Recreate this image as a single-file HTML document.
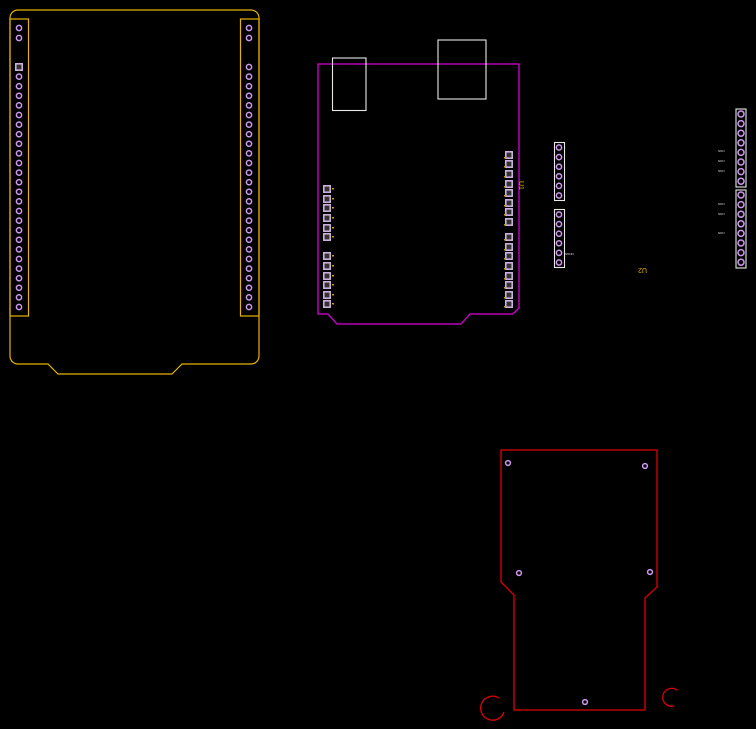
<!DOCTYPE html>
<html><head><meta charset="utf-8"><style>
html,body{margin:0;padding:0;background:#000;width:756px;height:729px;overflow:hidden}
svg{display:block}
</style></head><body>
<svg id="s" width="756" height="729" viewBox="0 0 756 729" xmlns="http://www.w3.org/2000/svg">
<rect width="756" height="729" fill="#000"/>
<g fill="none" stroke="#e6b400" stroke-width="1.2">
<path d="M10,18 A8,8 0 0 1 18,10 L251,10 A8,8 0 0 1 259,18 L259,356 A8,8 0 0 1 251,364 L182,364 L172,374 L58,374 L48,364 L18,364 A8,8 0 0 1 10,356 Z"/>
<rect x="10" y="19" width="18.5" height="297"/>
<rect x="240.5" y="19" width="18.5" height="297"/>
</g>
<g fill="none" stroke="#d800d8" stroke-width="1.3">
<path d="M318,64 L519,64 L519,308 L513,314 L470,314 L461,324 L337,324 L328,314 L318,314 Z"/>
</g>
<g fill="none" stroke="#e8e8e8" stroke-width="1.1">
<rect x="332.5" y="58" width="33.5" height="52.5"/>
<rect x="438" y="40" width="48" height="59"/>
</g>
<text x="519" y="181" fill="#e6b400" font-family="Liberation Sans, sans-serif" font-size="7" transform="rotate(90 519 181)">U1</text>
<g fill="none" stroke="#e8e8e8" stroke-width="1.1">
<rect x="554.5" y="142.5" width="10" height="58"/>
<rect x="554.5" y="209.5" width="10" height="58"/>
<rect x="736" y="109" width="10" height="78"/>
<rect x="736" y="190" width="10" height="78"/>
</g>
<text x="647" y="272" fill="#e6b400" font-family="Liberation Sans, sans-serif" font-size="7" transform="rotate(180 647 270)">U2</text>
<g fill="#ddd" font-family="Liberation Sans, sans-serif" font-size="3">
<text x="718" y="152">NNN</text><text x="718" y="162">NNN</text><text x="718" y="172">NNN</text>
<text x="718" y="205">NNN</text><text x="718" y="215">NNN</text><text x="718" y="234">NNN</text>
<text x="565" y="255">NNNN</text>
</g>
<g fill="none" stroke="#e00000" stroke-width="1.3">
<path d="M501,450 L657,450 L657,587 L645,598 L645,710 L514,710 L514,595 L501,582 Z"/>
<path d="M499,698 A12,12 0 1 0 504,712"/>
<path d="M677,690 A9,9 0 1 0 674,706"/>
</g>
<g id="pins"></g>
</svg>
<script>
var g=document.getElementById('pins'),ns='http://www.w3.org/2000/svg';
function c(x,y,r){var e=document.createElementNS(ns,'circle');e.setAttribute('cx',x);e.setAttribute('cy',y);e.setAttribute('r',r||2.6);e.setAttribute('fill','none');e.setAttribute('stroke','#d098f0');e.setAttribute('stroke-width','1.5');g.appendChild(e);}
function sq(x,y){var e=document.createElementNS(ns,'rect');e.setAttribute('x',x-3.2);e.setAttribute('y',y-3.2);e.setAttribute('width',6.4);e.setAttribute('height',6.4);e.setAttribute('fill','#333');e.setAttribute('stroke','#d8b8e8');e.setAttribute('stroke-width','1.5');g.appendChild(e);}
function y(x,yy){var e=document.createElementNS(ns,'rect');e.setAttribute('x',x);e.setAttribute('y',yy);e.setAttribute('width',2);e.setAttribute('height',1.5);e.setAttribute('fill','#c8a000');g.appendChild(e);}
[19,249].forEach(function(x){c(x,28);c(x,38);for(var i=0;i<26;i++){if(x==19&&i==0)sq(x,67);else c(x,67+i*9.6);}});
[189,199,208,218,228,237,256,266,276,285,295,304].forEach(function(v){sq(327,v);y(332,v-1)});
[155,164,174,184,193,203,212,222,237,247,256,266,276,285,295,304].forEach(function(v){sq(509,v);y(504,v+2)});
for(var i=0;i<6;i++){c(559,147.5+i*9.6);c(559,214.5+i*9.6);}
for(var i=0;i<8;i++){c(741,114+i*9.6,3);c(741,195+i*9.6,3);}
[[508,463],[645,466],[519,573],[650,572],[585,702]].forEach(function(p){c(p[0],p[1],2.4)});
</script>
</body></html>
